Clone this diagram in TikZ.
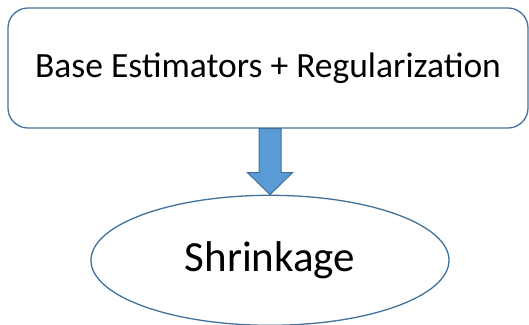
\documentclass[tikz,border=0pt]{standalone}
\usepackage{fontspec}
\setmainfont{Carlito}
\usetikzlibrary{shapes.geometric, positioning}

\definecolor{edgeblue}{HTML}{41719C}
\definecolor{fillblue}{HTML}{5B9BD5}

\begin{document}
\begin{tikzpicture}[
  x=1pt, y=1pt,
  node distance=66pt,
  boxnode/.style={rectangle, rounded corners=20pt, draw=edgeblue, line width=1.3pt, align=center, minimum width=520pt, minimum height=120pt, font=\fontsize{35.5}{42}\selectfont},
  ovalnode/.style={ellipse, draw=edgeblue, line width=1.3pt, minimum width=358pt, minimum height=130pt, inner sep=0pt, font=\fontsize{43}{50}\selectfont},
  blockarrow/.style={draw=edgeblue, fill=fillblue, line width=1pt, line join=miter}
]
\useasboundingbox (0,0) rectangle (529,-324);
\node (base)   [boxnode] at (268,-68) {Base Estimators + Regularization};
\node (shrink) [ovalnode, below=of base, xshift=2pt] {Shrinkage};
\coordinate (top) at (base.south -| shrink.north);

\draw [blockarrow] ([xshift=-11pt]top)
  -- ([xshift=-11pt,yshift=22pt]shrink.north)
  -- ([xshift=-22.5pt,yshift=22pt]shrink.north)
  -- (shrink.north)
  -- ([xshift=22.5pt,yshift=22pt]shrink.north)
  -- ([xshift=11pt,yshift=22pt]shrink.north)
  -- ([xshift=11pt]top) -- cycle;
\end{tikzpicture}
\end{document}
